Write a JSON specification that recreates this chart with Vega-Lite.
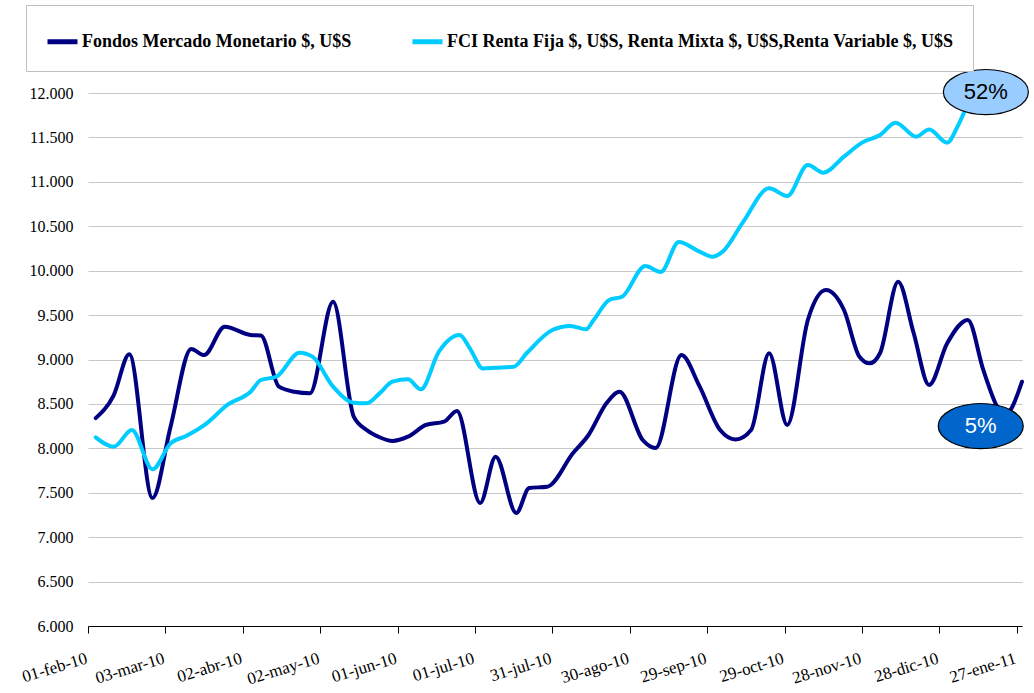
{
  "$schema": "https://vega.github.io/schema/vega-lite/v6.json",
  "width": 934,
  "height": 533,
  "autosize": {"type": "none"},
  "padding": {"left": 88, "top": 93, "right": 12, "bottom": 67},
  "background": "white",
  "config": {"view": {"stroke": null}},
  "datasets": {
    "series": [
      {"date": "2010-02-04", "serie": "Fondos Mercado Monetario $, U$S", "valor": 8340},
      {"date": "2010-02-11", "serie": "Fondos Mercado Monetario $, U$S", "valor": 8600},
      {"date": "2010-02-17", "serie": "Fondos Mercado Monetario $, U$S", "valor": 9060},
      {"date": "2010-02-26", "serie": "Fondos Mercado Monetario $, U$S", "valor": 7440},
      {"date": "2010-03-05", "serie": "Fondos Mercado Monetario $, U$S", "valor": 8244},
      {"date": "2010-03-13", "serie": "Fondos Mercado Monetario $, U$S", "valor": 9118},
      {"date": "2010-03-18", "serie": "Fondos Mercado Monetario $, U$S", "valor": 9050},
      {"date": "2010-03-26", "serie": "Fondos Mercado Monetario $, U$S", "valor": 9369},
      {"date": "2010-04-05", "serie": "Fondos Mercado Monetario $, U$S", "valor": 9276},
      {"date": "2010-04-09", "serie": "Fondos Mercado Monetario $, U$S", "valor": 9270},
      {"date": "2010-04-16", "serie": "Fondos Mercado Monetario $, U$S", "valor": 8694},
      {"date": "2010-04-22", "serie": "Fondos Mercado Monetario $, U$S", "valor": 8637},
      {"date": "2010-04-28", "serie": "Fondos Mercado Monetario $, U$S", "valor": 8620},
      {"date": "2010-05-07", "serie": "Fondos Mercado Monetario $, U$S", "valor": 9650},
      {"date": "2010-05-15", "serie": "Fondos Mercado Monetario $, U$S", "valor": 8356},
      {"date": "2010-05-20", "serie": "Fondos Mercado Monetario $, U$S", "valor": 8206},
      {"date": "2010-05-25", "serie": "Fondos Mercado Monetario $, U$S", "valor": 8125},
      {"date": "2010-05-30", "serie": "Fondos Mercado Monetario $, U$S", "valor": 8083},
      {"date": "2010-06-05", "serie": "Fondos Mercado Monetario $, U$S", "valor": 8131},
      {"date": "2010-06-12", "serie": "Fondos Mercado Monetario $, U$S", "valor": 8263},
      {"date": "2010-06-19", "serie": "Fondos Mercado Monetario $, U$S", "valor": 8300},
      {"date": "2010-06-24", "serie": "Fondos Mercado Monetario $, U$S", "valor": 8420},
      {"date": "2010-07-03", "serie": "Fondos Mercado Monetario $, U$S", "valor": 7385},
      {"date": "2010-07-09", "serie": "Fondos Mercado Monetario $, U$S", "valor": 7906},
      {"date": "2010-07-17", "serie": "Fondos Mercado Monetario $, U$S", "valor": 7272},
      {"date": "2010-07-22", "serie": "Fondos Mercado Monetario $, U$S", "valor": 7553},
      {"date": "2010-07-29", "serie": "Fondos Mercado Monetario $, U$S", "valor": 7568},
      {"date": "2010-08-08", "serie": "Fondos Mercado Monetario $, U$S", "valor": 7947},
      {"date": "2010-08-14", "serie": "Fondos Mercado Monetario $, U$S", "valor": 8150},
      {"date": "2010-08-21", "serie": "Fondos Mercado Monetario $, U$S", "valor": 8510},
      {"date": "2010-08-26", "serie": "Fondos Mercado Monetario $, U$S", "valor": 8637},
      {"date": "2010-09-04", "serie": "Fondos Mercado Monetario $, U$S", "valor": 8094},
      {"date": "2010-09-09", "serie": "Fondos Mercado Monetario $, U$S", "valor": 8004},
      {"date": "2010-09-19", "serie": "Fondos Mercado Monetario $, U$S", "valor": 9050},
      {"date": "2010-09-26", "serie": "Fondos Mercado Monetario $, U$S", "valor": 8700},
      {"date": "2010-10-04", "serie": "Fondos Mercado Monetario $, U$S", "valor": 8206},
      {"date": "2010-10-10", "serie": "Fondos Mercado Monetario $, U$S", "valor": 8100},
      {"date": "2010-10-16", "serie": "Fondos Mercado Monetario $, U$S", "valor": 8206},
      {"date": "2010-10-23", "serie": "Fondos Mercado Monetario $, U$S", "valor": 9070},
      {"date": "2010-10-30", "serie": "Fondos Mercado Monetario $, U$S", "valor": 8263},
      {"date": "2010-11-07", "serie": "Fondos Mercado Monetario $, U$S", "valor": 9445},
      {"date": "2010-11-14", "serie": "Fondos Mercado Monetario $, U$S", "valor": 9782},
      {"date": "2010-11-21", "serie": "Fondos Mercado Monetario $, U$S", "valor": 9557},
      {"date": "2010-11-27", "serie": "Fondos Mercado Monetario $, U$S", "valor": 9032},
      {"date": "2010-12-01", "serie": "Fondos Mercado Monetario $, U$S", "valor": 8957},
      {"date": "2010-12-05", "serie": "Fondos Mercado Monetario $, U$S", "valor": 9073},
      {"date": "2010-12-12", "serie": "Fondos Mercado Monetario $, U$S", "valor": 9876},
      {"date": "2010-12-18", "serie": "Fondos Mercado Monetario $, U$S", "valor": 9298},
      {"date": "2010-12-24", "serie": "Fondos Mercado Monetario $, U$S", "valor": 8713},
      {"date": "2010-12-31", "serie": "Fondos Mercado Monetario $, U$S", "valor": 9182},
      {"date": "2011-01-08", "serie": "Fondos Mercado Monetario $, U$S", "valor": 9445},
      {"date": "2011-01-14", "serie": "Fondos Mercado Monetario $, U$S", "valor": 8882},
      {"date": "2011-01-19", "serie": "Fondos Mercado Monetario $, U$S", "valor": 8488},
      {"date": "2011-01-22", "serie": "Fondos Mercado Monetario $, U$S", "valor": 8350},
      {"date": "2011-01-25", "serie": "Fondos Mercado Monetario $, U$S", "valor": 8454},
      {"date": "2011-01-29", "serie": "Fondos Mercado Monetario $, U$S", "valor": 8750},
      {"date": "2010-02-04", "serie": "FCI Renta Fija $, U$S, Renta Mixta $, U$S,Renta Variable $, U$S", "valor": 8124},
      {"date": "2010-02-11", "serie": "FCI Renta Fija $, U$S, Renta Mixta $, U$S,Renta Variable $, U$S", "valor": 8018},
      {"date": "2010-02-18", "serie": "FCI Renta Fija $, U$S, Renta Mixta $, U$S,Renta Variable $, U$S", "valor": 8206},
      {"date": "2010-02-26", "serie": "FCI Renta Fija $, U$S, Renta Mixta $, U$S,Renta Variable $, U$S", "valor": 7764},
      {"date": "2010-03-05", "serie": "FCI Renta Fija $, U$S, Renta Mixta $, U$S,Renta Variable $, U$S", "valor": 8056},
      {"date": "2010-03-11", "serie": "FCI Renta Fija $, U$S, Renta Mixta $, U$S,Renta Variable $, U$S", "valor": 8139},
      {"date": "2010-03-19", "serie": "FCI Renta Fija $, U$S, Renta Mixta $, U$S,Renta Variable $, U$S", "valor": 8282},
      {"date": "2010-03-27", "serie": "FCI Renta Fija $, U$S, Renta Mixta $, U$S,Renta Variable $, U$S", "valor": 8488},
      {"date": "2010-04-05", "serie": "FCI Renta Fija $, U$S, Renta Mixta $, U$S,Renta Variable $, U$S", "valor": 8637},
      {"date": "2010-04-09", "serie": "FCI Renta Fija $, U$S, Renta Mixta $, U$S,Renta Variable $, U$S", "valor": 8769},
      {"date": "2010-04-15", "serie": "FCI Renta Fija $, U$S, Renta Mixta $, U$S,Renta Variable $, U$S", "valor": 8806},
      {"date": "2010-04-24", "serie": "FCI Renta Fija $, U$S, Renta Mixta $, U$S,Renta Variable $, U$S", "valor": 9077},
      {"date": "2010-04-29", "serie": "FCI Renta Fija $, U$S, Renta Mixta $, U$S,Renta Variable $, U$S", "valor": 9032},
      {"date": "2010-05-07", "serie": "FCI Renta Fija $, U$S, Renta Mixta $, U$S,Renta Variable $, U$S", "valor": 8694},
      {"date": "2010-05-15", "serie": "FCI Renta Fija $, U$S, Renta Mixta $, U$S,Renta Variable $, U$S", "valor": 8514},
      {"date": "2010-05-20", "serie": "FCI Renta Fija $, U$S, Renta Mixta $, U$S,Renta Variable $, U$S", "valor": 8507},
      {"date": "2010-05-25", "serie": "FCI Renta Fija $, U$S, Renta Mixta $, U$S,Renta Variable $, U$S", "valor": 8619},
      {"date": "2010-05-30", "serie": "FCI Renta Fija $, U$S, Renta Mixta $, U$S,Renta Variable $, U$S", "valor": 8750},
      {"date": "2010-06-05", "serie": "FCI Renta Fija $, U$S, Renta Mixta $, U$S,Renta Variable $, U$S", "valor": 8777},
      {"date": "2010-06-10", "serie": "FCI Renta Fija $, U$S, Renta Mixta $, U$S,Renta Variable $, U$S", "valor": 8664},
      {"date": "2010-06-17", "serie": "FCI Renta Fija $, U$S, Renta Mixta $, U$S,Renta Variable $, U$S", "valor": 9088},
      {"date": "2010-06-25", "serie": "FCI Renta Fija $, U$S, Renta Mixta $, U$S,Renta Variable $, U$S", "valor": 9276},
      {"date": "2010-06-29", "serie": "FCI Renta Fija $, U$S, Renta Mixta $, U$S,Renta Variable $, U$S", "valor": 9126},
      {"date": "2010-07-04", "serie": "FCI Renta Fija $, U$S, Renta Mixta $, U$S,Renta Variable $, U$S", "valor": 8900},
      {"date": "2010-07-09", "serie": "FCI Renta Fija $, U$S, Renta Mixta $, U$S,Renta Variable $, U$S", "valor": 8908},
      {"date": "2010-07-16", "serie": "FCI Renta Fija $, U$S, Renta Mixta $, U$S,Renta Variable $, U$S", "valor": 8919},
      {"date": "2010-07-21", "serie": "FCI Renta Fija $, U$S, Renta Mixta $, U$S,Renta Variable $, U$S", "valor": 9070},
      {"date": "2010-07-31", "serie": "FCI Renta Fija $, U$S, Renta Mixta $, U$S,Renta Variable $, U$S", "valor": 9332},
      {"date": "2010-08-07", "serie": "FCI Renta Fija $, U$S, Renta Mixta $, U$S,Renta Variable $, U$S", "valor": 9377},
      {"date": "2010-08-13", "serie": "FCI Renta Fija $, U$S, Renta Mixta $, U$S,Renta Variable $, U$S", "valor": 9340},
      {"date": "2010-08-16", "serie": "FCI Renta Fija $, U$S, Renta Mixta $, U$S,Renta Variable $, U$S", "valor": 9445},
      {"date": "2010-08-22", "serie": "FCI Renta Fija $, U$S, Renta Mixta $, U$S,Renta Variable $, U$S", "valor": 9670},
      {"date": "2010-08-27", "serie": "FCI Renta Fija $, U$S, Renta Mixta $, U$S,Renta Variable $, U$S", "valor": 9707},
      {"date": "2010-09-05", "serie": "FCI Renta Fija $, U$S, Renta Mixta $, U$S,Renta Variable $, U$S", "valor": 10052},
      {"date": "2010-09-11", "serie": "FCI Renta Fija $, U$S, Renta Mixta $, U$S,Renta Variable $, U$S", "valor": 9985},
      {"date": "2010-09-18", "serie": "FCI Renta Fija $, U$S, Renta Mixta $, U$S,Renta Variable $, U$S", "valor": 10322},
      {"date": "2010-09-26", "serie": "FCI Renta Fija $, U$S, Renta Mixta $, U$S,Renta Variable $, U$S", "valor": 10214},
      {"date": "2010-10-01", "serie": "FCI Renta Fija $, U$S, Renta Mixta $, U$S,Renta Variable $, U$S", "valor": 10157},
      {"date": "2010-10-05", "serie": "FCI Renta Fija $, U$S, Renta Mixta $, U$S,Renta Variable $, U$S", "valor": 10214},
      {"date": "2010-10-13", "serie": "FCI Renta Fija $, U$S, Renta Mixta $, U$S,Renta Variable $, U$S", "valor": 10552},
      {"date": "2010-10-23", "serie": "FCI Renta Fija $, U$S, Renta Mixta $, U$S,Renta Variable $, U$S", "valor": 10927},
      {"date": "2010-10-30", "serie": "FCI Renta Fija $, U$S, Renta Mixta $, U$S,Renta Variable $, U$S", "valor": 10840},
      {"date": "2010-11-07", "serie": "FCI Renta Fija $, U$S, Renta Mixta $, U$S,Renta Variable $, U$S", "valor": 11189},
      {"date": "2010-11-13", "serie": "FCI Renta Fija $, U$S, Renta Mixta $, U$S,Renta Variable $, U$S", "valor": 11103},
      {"date": "2010-11-21", "serie": "FCI Renta Fija $, U$S, Renta Mixta $, U$S,Renta Variable $, U$S", "valor": 11283},
      {"date": "2010-11-28", "serie": "FCI Renta Fija $, U$S, Renta Mixta $, U$S,Renta Variable $, U$S", "valor": 11441},
      {"date": "2010-12-05", "serie": "FCI Renta Fija $, U$S, Renta Mixta $, U$S,Renta Variable $, U$S", "valor": 11527},
      {"date": "2010-12-11", "serie": "FCI Renta Fija $, U$S, Renta Mixta $, U$S,Renta Variable $, U$S", "valor": 11666},
      {"date": "2010-12-19", "serie": "FCI Renta Fija $, U$S, Renta Mixta $, U$S,Renta Variable $, U$S", "valor": 11508},
      {"date": "2010-12-24", "serie": "FCI Renta Fija $, U$S, Renta Mixta $, U$S,Renta Variable $, U$S", "valor": 11590},
      {"date": "2010-12-31", "serie": "FCI Renta Fija $, U$S, Renta Mixta $, U$S,Renta Variable $, U$S", "valor": 11441},
      {"date": "2011-01-04", "serie": "FCI Renta Fija $, U$S, Renta Mixta $, U$S,Renta Variable $, U$S", "valor": 11621},
      {"date": "2011-01-07", "serie": "FCI Renta Fija $, U$S, Renta Mixta $, U$S,Renta Variable $, U$S", "valor": 11808},
      {"date": "2011-01-12", "serie": "FCI Renta Fija $, U$S, Renta Mixta $, U$S,Renta Variable $, U$S", "valor": 12050}
    ],
    "notas": [
      {"date": "2011-01-15", "valor": 12011, "texto": "52%"},
      {"date": "2011-01-13", "valor": 8251, "texto": "5%"}
    ]
  },
  "layer": [
    {
      "data": {"name": "series"},
      "mark": {"type": "line", "interpolate": "monotone", "strokeWidth": 4, "strokeCap": "round", "strokeJoin": "round"},
      "encoding": {
        "x": {
          "field": "date", "type": "temporal",
          "scale": {"type": "utc", "domain": [{"year": 2010, "month": 2, "date": 1, "utc": true}, {"year": 2011, "month": 1, "date": 29, "utc": true}]},
          "axis": {
            "title": null, "grid": false,
            "domainColor": "black", "domainWidth": 1,
            "tickColor": "black", "tickSize": 7,
            "values": [
              {"year": 2010, "month": 2, "date": 1, "utc": true},
              {"year": 2010, "month": 3, "date": 3, "utc": true},
              {"year": 2010, "month": 4, "date": 2, "utc": true},
              {"year": 2010, "month": 5, "date": 2, "utc": true},
              {"year": 2010, "month": 6, "date": 1, "utc": true},
              {"year": 2010, "month": 7, "date": 1, "utc": true},
              {"year": 2010, "month": 7, "date": 31, "utc": true},
              {"year": 2010, "month": 8, "date": 30, "utc": true},
              {"year": 2010, "month": 9, "date": 29, "utc": true},
              {"year": 2010, "month": 10, "date": 29, "utc": true},
              {"year": 2010, "month": 11, "date": 28, "utc": true},
              {"year": 2010, "month": 12, "date": 28, "utc": true},
              {"year": 2011, "month": 1, "date": 27, "utc": true}
            ],
            "labelExpr": "utcFormat(datum.value, '%d') + '-' + ['ene','feb','mar','abr','may','jun','jul','ago','sep','oct','nov','dic'][utcmonth(datum.value)] + '-' + utcFormat(datum.value, '%y')",
            "labelAngle": -17, "labelAlign": "right", "labelBaseline": "top",
            "labelPadding": 17, "labelOffset": -4,
            "labelFont": "Liberation Serif", "labelFontSize": 17, "labelColor": "black",
            "labelOverlap": false, "labelBound": false, "labelFlush": false
          }
        },
        "y": {
          "field": "valor", "type": "quantitative",
          "scale": {"domain": [6000, 12000], "nice": false, "zero": false},
          "axis": {
            "title": null, "domain": false, "ticks": false,
            "grid": true, "gridColor": "#c8c8c8", "gridWidth": 1,
            "values": [6000, 6500, 7000, 7500, 8000, 8500, 9000, 9500, 10000, 10500, 11000, 11500, 12000],
            "labelExpr": "replace(format(datum.value, ',.0f'), ',', '.')",
            "labelPadding": 15,
            "labelFont": "Liberation Serif", "labelFontSize": 16, "labelColor": "black"
          }
        },
        "color": {
          "field": "serie", "type": "nominal",
          "scale": {
            "domain": ["Fondos Mercado Monetario $, U$S", "FCI Renta Fija $, U$S, Renta Mixta $, U$S,Renta Variable $, U$S"],
            "range": ["#000080", "#00CCFF"]
          },
          "legend": {
            "title": null, "orient": "none", "direction": "horizontal",
            "legendX": -62, "legendY": -88,
            "padding": 19,
            "strokeColor": "#bfbfbf", "fillColor": "white",
            "symbolType": "stroke", "symbolStrokeWidth": 5, "symbolSize": 900,
            "labelFont": "Liberation Serif", "labelFontWeight": "bold", "labelFontSize": 18,
            "labelColor": "black", "labelLimit": 700, "labelOffset": 2,
            "columnPadding": 50
          }
        }
      }
    },
    {
      "data": {"name": "notas"},
      "mark": {
        "type": "point", "filled": true, "opacity": 1, "stroke": "black", "strokeWidth": 1.2,
        "shape": "M -1 0 C -1 -0.292 -0.552 -0.53 0 -0.53 C 0.552 -0.53 1 -0.292 1 0 C 1 0.292 0.552 0.53 0 0.53 C -0.552 0.53 -1 0.292 -1 0 Z",
        "size": 7225
      },
      "encoding": {
        "x": {"field": "date", "type": "temporal"},
        "y": {"field": "valor", "type": "quantitative"},
        "fill": {"field": "texto", "type": "nominal", "scale": {"domain": ["52%", "5%"], "range": ["#99CCFF", "#0066CC"]}, "legend": null}
      }
    },
    {
      "data": {"name": "notas"},
      "mark": {"type": "text", "font": "Liberation Sans", "fontSize": 22, "align": "center", "baseline": "middle"},
      "encoding": {
        "x": {"field": "date", "type": "temporal"},
        "y": {"field": "valor", "type": "quantitative"},
        "text": {"field": "texto"},
        "color": {"field": "texto", "type": "nominal", "scale": {"domain": ["52%", "5%"], "range": ["black", "white"]}, "legend": null}
      }
    }
  ],
  "resolve": {"scale": {"color": "independent"}}
}
